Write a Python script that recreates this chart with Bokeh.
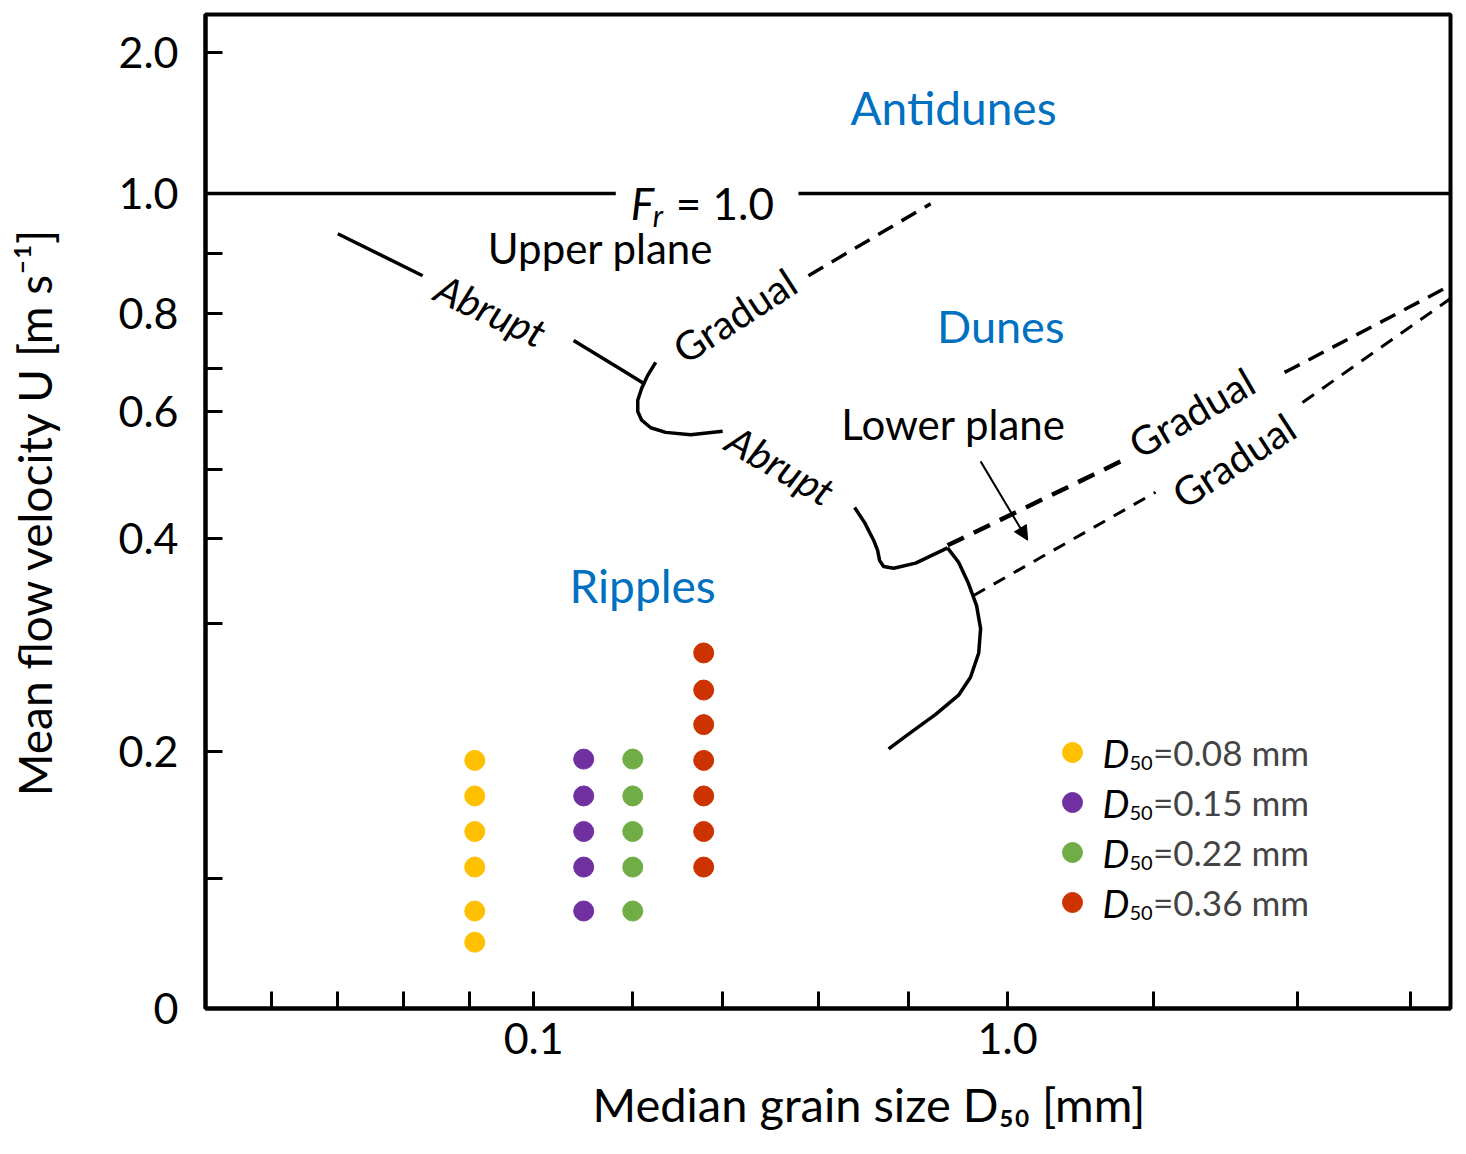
import numpy as np
from math import radians
from bokeh.plotting import figure
from bokeh.models import (Label, Legend, LegendItem, FixedTicker, Arrow, NormalHead,
                          CustomJSTickFormatter, Title)
from bokeh.embed import file_html
from bokeh.resources import INLINE

FONT = "Lato"
BLUE = "#0070C0"

# ---------------- axes of the schematic diagram ----------------
# velocity axis is drawn non-uniformly in the original: tick velocity -> height along axis
U_TICKS = [0.0, 0.1, 0.2, 0.3, 0.4, 0.5, 0.6, 0.7, 0.8, 0.9, 1.0, 2.0]
U_TICK_HEIGHT = [0, 130, 257, 385, 470, 539, 597, 640, 695, 755, 815, 956]
U_MAJOR = [0.0, 0.2, 0.4, 0.6, 0.8, 1.0, 2.0]
U_MAJOR_LABELS = ["0", "0.2", "0.4", "0.6", "0.8", "1.0", "2.0"]
U_MINOR = [0.1, 0.3, 0.5, 0.7, 0.9]
H_TOP = 994

D_MAJOR = [0.1, 1.0]
D_MINOR = [0.028, 0.0386, 0.0532, 0.0733, 0.1618, 0.2505, 0.3993, 0.6183, 2.03, 4.09, 7.08]
D_RANGE = (0.0203, 8.6)

X_TITLE = "Median grain size D\u2085\u2080 [mm]"
Y_TITLE = "Mean flow velocity U [m s\u207b\u00b9]"


def h(u):
    return np.interp(np.asarray(u, dtype=float), U_TICKS, U_TICK_HEIGHT)


# ---------------- data: experiments ----------------
SERIES_LABELS = ["=0.08 mm", "=0.15 mm", "=0.22 mm", "=0.36 mm"]
SERIES_D = [0.0751, 0.1275, 0.1618, 0.2284]
SERIES_U = [
    [0.193, 0.165, 0.137, 0.109, 0.075, 0.051],
    [0.194, 0.165, 0.137, 0.109, 0.075],
    [0.194, 0.165, 0.137, 0.109, 0.075],
    [0.277, 0.248, 0.221, 0.193, 0.165, 0.137, 0.109],
]
SERIES_COLORS = ["#FFC000", "#7030A0", "#70AD47", "#CC3300"]

# ---------------- data: bedform phase boundaries (D50 mm, U m/s) ----------------
FROUDE_LEFT_D = [0.0203, 0.149]
FROUDE_RIGHT_D = [0.362, 8.6]
FROUDE_U = [1.0, 1.0]

ABRUPT_UPPER_A_D = [0.0386, 0.0583]
ABRUPT_UPPER_A_U = [0.933, 0.863]
ABRUPT_UPPER_B_D = [0.1214, 0.1518, 0.1698]
ABRUPT_UPPER_B_U = [0.751, 0.700, 0.667]
HOOK_D = [0.1809, 0.1740, 0.1690, 0.1658, 0.1658, 0.1690, 0.1766, 0.1899, 0.2144, 0.2505]
HOOK_U = [0.711, 0.684, 0.654, 0.626, 0.600, 0.585, 0.572, 0.564, 0.560, 0.566]
ABRUPT_LOWER_D = [0.4755, 0.4992, 0.5215, 0.5317, 0.5370, 0.5475, 0.5748, 0.6396, 0.7470]
ABRUPT_LOWER_U = [0.445, 0.423, 0.398, 0.386, 0.374, 0.367, 0.365, 0.371, 0.389]
RIPPLE_EDGE_D = [0.747, 0.788, 0.827, 0.860, 0.877, 0.869, 0.835, 0.788, 0.705, 0.625, 0.561]
RIPPLE_EDGE_U = [0.389, 0.372, 0.347, 0.321, 0.296, 0.277, 0.258, 0.244, 0.229, 0.215, 0.202]

GRADUAL_UPPER_D = [0.380, 0.688]
GRADUAL_UPPER_U = [0.863, 0.983]
GRADUAL_DUNE_1_D = [0.747, 0.801, 1.598, 1.731]
GRADUAL_DUNE_1_U = [0.392, 0.400, 0.500, 0.514]
GRADUAL_DUNE_2_D = [3.84, 3.985, 6.637, 8.6]
GRADUAL_DUNE_2_U = [0.691, 0.700, 0.800, 0.847]
GRADUAL_RIPPLE_1_D = [0.848, 1.382, 2.052]
GRADUAL_RIPPLE_1_U = [0.333, 0.400, 0.467]
GRADUAL_RIPPLE_2_D = [4.19, 5.30, 7.76, 8.6]
GRADUAL_RIPPLE_2_U = [0.621, 0.700, 0.800, 0.825]

ARROW_D = [0.877, 1.102]
ARROW_U = [0.514, 0.398]

# ---------------- figure ----------------
p = figure(width=1458, height=1154, x_axis_type="log",
           x_range=D_RANGE, y_range=(0, H_TOP),
           output_backend="svg", toolbar_location=None,
           min_border_left=205, min_border_right=8,
           min_border_top=14, min_border_bottom=146)
p.title.visible = False
p.xgrid.visible = False
p.ygrid.visible = False
p.outline_line_color = "black"
p.outline_line_width = 4
p.outline_line_alpha = 1.0
p.background_fill_color = "white"
p.border_fill_color = "white"

p.xaxis.ticker = FixedTicker(ticks=D_MAJOR, minor_ticks=D_MINOR)
p.xaxis.formatter = CustomJSTickFormatter(code="return tick.toFixed(1)")
p.yaxis.ticker = FixedTicker(ticks=[float(v) for v in h(U_MAJOR)],
                             minor_ticks=[float(v) for v in h(U_MINOR)])
p.yaxis.formatter = CustomJSTickFormatter(
    args=dict(pos=[float(v) for v in h(U_MAJOR)], lab=U_MAJOR_LABELS),
    code="""
let best = 0;
for (let i = 0; i < pos.length; i++) {
  if (Math.abs(pos[i] - tick) < Math.abs(pos[best] - tick)) best = i;
}
return lab[best];
""")

for ax in (p.xaxis[0], p.yaxis[0]):
    ax.axis_line_width = 4
    ax.axis_line_color = "black"
    ax.major_tick_in = 17
    ax.major_tick_out = 0
    ax.minor_tick_in = 17
    ax.minor_tick_out = 0
    ax.major_tick_line_width = 3
    ax.minor_tick_line_width = 3
    ax.major_tick_line_color = "black"
    ax.minor_tick_line_color = "black"
    ax.major_label_text_font = FONT
    ax.major_label_text_font_size = "43px"
    ax.major_label_text_color = "black"
p.yaxis.major_label_standoff = 27
p.xaxis.major_label_standoff = 14

# y axis title
p.yaxis.axis_label = Y_TITLE
p.yaxis.axis_label_text_font = FONT
p.yaxis.axis_label_text_font_size = "46px"
p.yaxis.axis_label_text_font_style = "normal"
p.yaxis.axis_label_text_color = "black"
p.yaxis.axis_label_standoff = 53

# x axis title (side title so it can be shifted like the original)
p.add_layout(Title(text=X_TITLE, align="left", offset=387, text_font=FONT,
                   text_font_size="47px", text_font_style="normal",
                   text_color="black", standoff=35), "below")


def draw(ds, us, width=3.5, dash="solid"):
    p.line(ds, h(us), line_color="black", line_width=width, line_dash=dash,
           line_join="round", line_cap="butt")


draw(FROUDE_LEFT_D, FROUDE_U, 3.5)
draw(FROUDE_RIGHT_D, FROUDE_U, 3.5)
draw(ABRUPT_UPPER_A_D, ABRUPT_UPPER_A_U)
draw(ABRUPT_UPPER_B_D, ABRUPT_UPPER_B_U)
draw(HOOK_D, HOOK_U)
draw(ABRUPT_LOWER_D, ABRUPT_LOWER_U)
draw(RIPPLE_EDGE_D, RIPPLE_EDGE_U)
draw(GRADUAL_UPPER_D, GRADUAL_UPPER_U, 3.5, "17 10")
draw(GRADUAL_DUNE_1_D, GRADUAL_DUNE_1_U, 4.5, "18 11")
draw(GRADUAL_DUNE_2_D, GRADUAL_DUNE_2_U, 3.5, "17 10")
draw(GRADUAL_RIPPLE_1_D, GRADUAL_RIPPLE_1_U, 3, "13 10")
draw(GRADUAL_RIPPLE_2_D, GRADUAL_RIPPLE_2_U, 3, "14 10")

p.add_layout(Arrow(end=NormalHead(size=14, fill_color="black", line_color="black", line_width=1),
                   x_start=ARROW_D[0], y_start=float(h(ARROW_U[0])),
                   x_end=ARROW_D[1], y_end=float(h(ARROW_U[1])),
                   line_width=2, line_color="black"))

items = []
for lab, d, us, col in zip(SERIES_LABELS, SERIES_D, SERIES_U, SERIES_COLORS):
    r = p.scatter([d] * len(us), h(us), size=20, fill_color=col, line_color=col)
    items.append(LegendItem(label=lab, renderers=[r]))

legend = Legend(items=items, location=(842, 81), padding=0, spacing=0, margin=0,
                glyph_width=50, glyph_height=50, label_standoff=56,
                label_text_font=FONT, label_text_font_size="35px",
                background_fill_alpha=0, border_line_alpha=0)
p.add_layout(legend)


def label(x, y, text, size, color="black", style="normal", angle_deg=0.0,
          align="center", baseline="middle", units="data", x_offset=0, y_offset=0):
    if units == "data":
        y = float(h(y))
    p.add_layout(Label(x=x, y=y, x_units=units, y_units=units, text=text,
                       text_font=FONT, text_font_size=f"{size}px", text_color=color,
                       text_font_style=style, angle=radians(angle_deg),
                       text_align=align, text_baseline=baseline,
                       x_offset=x_offset, y_offset=y_offset))


# region names
label(0.769, 1.61, "Antidunes", 46, BLUE)
label(0.967, 0.778, "Dunes", 45, BLUE)
label(0.1698, 0.345, "Ripples", 46, BLUE)
label(0.1384, 0.91, "Upper plane", 42)
label(0.769, 0.578, "Lower plane", 42)
# transition types
label(0.0812, 0.805, "Abrupt", 40, style="italic", angle_deg=-25)
label(0.332, 0.507, "Abrupt", 40, style="italic", angle_deg=-30)
label(0.2655, 0.796, "Gradual", 40, angle_deg=33)
label(2.445, 0.598, "Gradual", 40, angle_deg=30)
label(3.0, 0.5155, "Gradual", 40, angle_deg=33)
# Froude label
label(0.1602, 0.985, "F", 44, style="italic", align="left")
label(0.1602, 0.985, "r", 30, style="italic", align="left", x_offset=22, y_offset=-12)
label(0.1602, 0.985, "= 1.0", 44, align="left", x_offset=45)

# legend symbol part "D50"
for i in range(4):
    yrow = 256 - 50 * i
    label(897, yrow, "D", 38, style="italic", align="left", units="screen")
    label(924, yrow - 10, "50", 20, align="left", units="screen")

open("out.html", "w").write(file_html(p, INLINE))
